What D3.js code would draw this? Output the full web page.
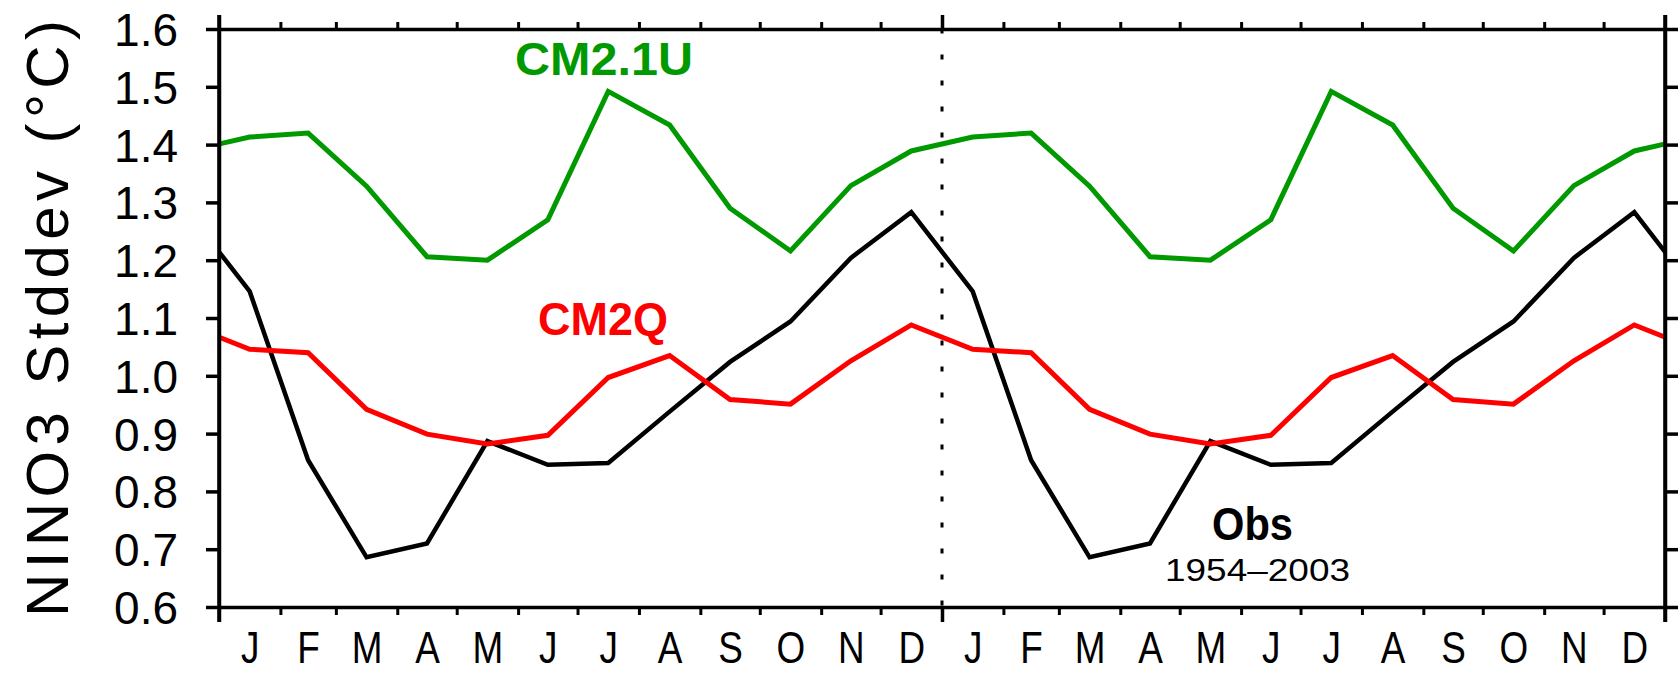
<!DOCTYPE html>
<html>
<head>
<meta charset="utf-8">
<script src="https://cdn.jsdelivr.net/npm/d3@7"></script>
<style>
  html, body { margin: 0; padding: 0; background: #fff; }
  svg { display: block; }
  text { font-family: "Liberation Sans", Arial, sans-serif; }
</style>
</head>
<body>
<svg id="chart" width="1678" height="673"></svg>
<script>
// ---- data ----
const months = ["J","F","M","A","M","J","J","A","S","O","N","D"];
const cm21u = [1.413, 1.420, 1.328, 1.206, 1.200, 1.270, 1.492, 1.434, 1.290, 1.216, 1.329, 1.389];
const cm2q  = [1.046, 1.040, 0.942, 0.899, 0.882, 0.897, 0.997, 1.035, 0.959, 0.951, 1.026, 1.088];
const obs   = [1.146, 0.854, 0.686, 0.710, 0.887, 0.846, 0.849, 0.938, 1.024, 1.094, 1.204, 1.283];
const yTicks = [0.6, 0.7, 0.8, 0.9, 1.0, 1.1, 1.2, 1.3, 1.4, 1.5, 1.6];
const years = [2001, 2002];

// ---- layout ----
const L = 219, R = 1665, T = 29, B = 607;
const svg = d3.select("#chart");

const x = d3.scaleUtc()
  .domain([new Date(Date.UTC(2001, 0, 1)), new Date(Date.UTC(2003, 0, 1))])
  .range([L, R]);
const y = d3.scaleLinear().domain([0.6, 1.6]).range([B, T]);

const monthStart = (yr, m) => new Date(Date.UTC(yr, m, 1));
const midMonth = (yr, m) => new Date((monthStart(yr, m).getTime() + monthStart(yr, m + 1).getTime()) / 2);

const monthBounds = [];
const monthMids = [];
years.forEach(yr => d3.range(12).forEach(m => {
  monthBounds.push(monthStart(yr, m));
  monthMids.push(midMonth(yr, m));
}));
monthBounds.push(monthStart(2003, 0));
const yearBounds = [monthStart(2001, 0), monthStart(2002, 0), monthStart(2003, 0)];

function seriesPoints(vals) {
  const pts = [];
  [2000, 2001, 2002, 2003].forEach(yr => vals.forEach((v, m) => {
    pts.push({ d: midMonth(yr, m), v });
  }));
  return pts.filter(p => p.d >= midMonth(2000, 11) && p.d <= midMonth(2003, 0));
}

svg.append("clipPath").attr("id", "plotclip")
  .append("rect").attr("x", L).attr("y", T - 5).attr("width", R - L).attr("height", B - T + 10);

// dotted year separator
svg.append("line")
  .attr("x1", x(yearBounds[1])).attr("x2", x(yearBounds[1]))
  .attr("y1", T).attr("y2", B)
  .attr("stroke", "#000").attr("stroke-width", 3)
  .attr("stroke-dasharray", "5,21").attr("stroke-dashoffset", 0.5);

// lines
const line = d3.line().x(p => x(p.d)).y(p => y(p.v));
const gLines = svg.append("g").attr("clip-path", "url(#plotclip)");
[
  { vals: cm21u, color: "#009900", w: 5 },
  { vals: obs, color: "#000000", w: 4.5 },
  { vals: cm2q, color: "#ff0000", w: 5 }
].forEach(s => {
  gLines.append("path")
    .datum(seriesPoints(s.vals))
    .attr("d", line)
    .attr("fill", "none")
    .attr("stroke", s.color)
    .attr("stroke-width", s.w)
    .attr("stroke-linejoin", "miter");
});

// ---- axes ----
function styleAxis(g, w) {
  g.selectAll("path.domain").attr("stroke", "#000").attr("stroke-width", 3.5);
  g.selectAll(".tick line").attr("stroke", "#000").attr("stroke-width", w);
}

svg.append("g").attr("transform", `translate(0,${B})`)
  .call(d3.axisBottom(x).tickValues(monthBounds).tickSize(8).tickSizeOuter(0).tickFormat(""))
  .call(g => styleAxis(g, 3));
svg.append("g").attr("transform", `translate(0,${B})`)
  .call(d3.axisBottom(x).tickValues(yearBounds).tickSize(15).tickSizeOuter(0).tickFormat(""))
  .call(g => { styleAxis(g, 3.5); g.select("path.domain").remove(); });
// bottom month labels
svg.append("g").attr("transform", `translate(0,${B})`)
  .call(d3.axisBottom(x).tickValues(monthMids).tickSize(0).tickPadding(0)
    .tickFormat((d, i) => months[i % 12]))
  .call(g => {
    g.select("path.domain").remove();
    g.selectAll(".tick text")
      .attr("font-size", 45)
      .attr("fill", "#000")
      .attr("y", 56)
      .attr("dy", 0)
      .attr("font-family", "Liberation Sans, Arial, sans-serif")
      .attr("transform", "scale(0.82,1)");
  });

svg.append("g").attr("transform", `translate(0,${T})`)
  .call(d3.axisTop(x).tickValues(monthBounds).tickSize(7).tickSizeOuter(0).tickFormat(""))
  .call(g => styleAxis(g, 3));
svg.append("g").attr("transform", `translate(0,${T})`)
  .call(d3.axisTop(x).tickValues(yearBounds).tickSize(14).tickSizeOuter(0).tickFormat(""))
  .call(g => { styleAxis(g, 3.5); g.select("path.domain").remove(); });

svg.append("g").attr("transform", `translate(${L},0)`)
  .call(d3.axisLeft(y).tickValues(yTicks).tickSize(13).tickSizeOuter(0).tickPadding(28)
    .tickFormat(d3.format(".1f")))
  .call(g => {
    styleAxis(g, 3.5);
    g.selectAll(".tick text")
      .attr("font-size", 46)
      .attr("fill", "#000")
      .attr("dy", "0.36em")
      .attr("font-family", "Liberation Sans, Arial, sans-serif");
  });
svg.append("g").attr("transform", `translate(${R},0)`)
  .call(d3.axisRight(y).tickValues(yTicks).tickSize(13).tickSizeOuter(0).tickFormat(""))
  .call(g => styleAxis(g, 3.5));

[L, R].forEach(xx => {
  svg.append("line").attr("x1", xx).attr("x2", xx).attr("y1", T - 14).attr("y2", B + 15)
    .attr("stroke", "#000").attr("stroke-width", 3.5);
});

// y-axis title
svg.append("text")
  .attr("transform", "translate(68,318.5) rotate(-90)")
  .attr("text-anchor", "middle")
  .attr("font-size", 60)
  .attr("textLength", 597)
  .attr("lengthAdjust", "spacing")
  .attr("fill", "#000")
  .text("NINO3 Stddev (°C)");

// series labels
svg.append("text").attr("x", 515).attr("y", 75)
  .attr("font-size", 47).attr("font-weight", "bold").attr("fill", "#009900")
  .attr("textLength", 178).attr("lengthAdjust", "spacingAndGlyphs")
  .text("CM2.1U");
svg.append("text").attr("x", 538).attr("y", 335)
  .attr("font-size", 46).attr("font-weight", "bold").attr("fill", "#ff0000")
  .attr("textLength", 130).attr("lengthAdjust", "spacingAndGlyphs")
  .text("CM2Q");
svg.append("text").attr("x", 1212).attr("y", 540)
  .attr("font-size", 47).attr("font-weight", "bold").attr("fill", "#000")
  .attr("textLength", 81).attr("lengthAdjust", "spacingAndGlyphs")
  .text("Obs");
svg.append("text").attr("x", 1165).attr("y", 581)
  .attr("font-size", 31).attr("fill", "#000")
  .attr("textLength", 185).attr("lengthAdjust", "spacingAndGlyphs")
  .text("1954–2003");
</script>
</body>
</html>
